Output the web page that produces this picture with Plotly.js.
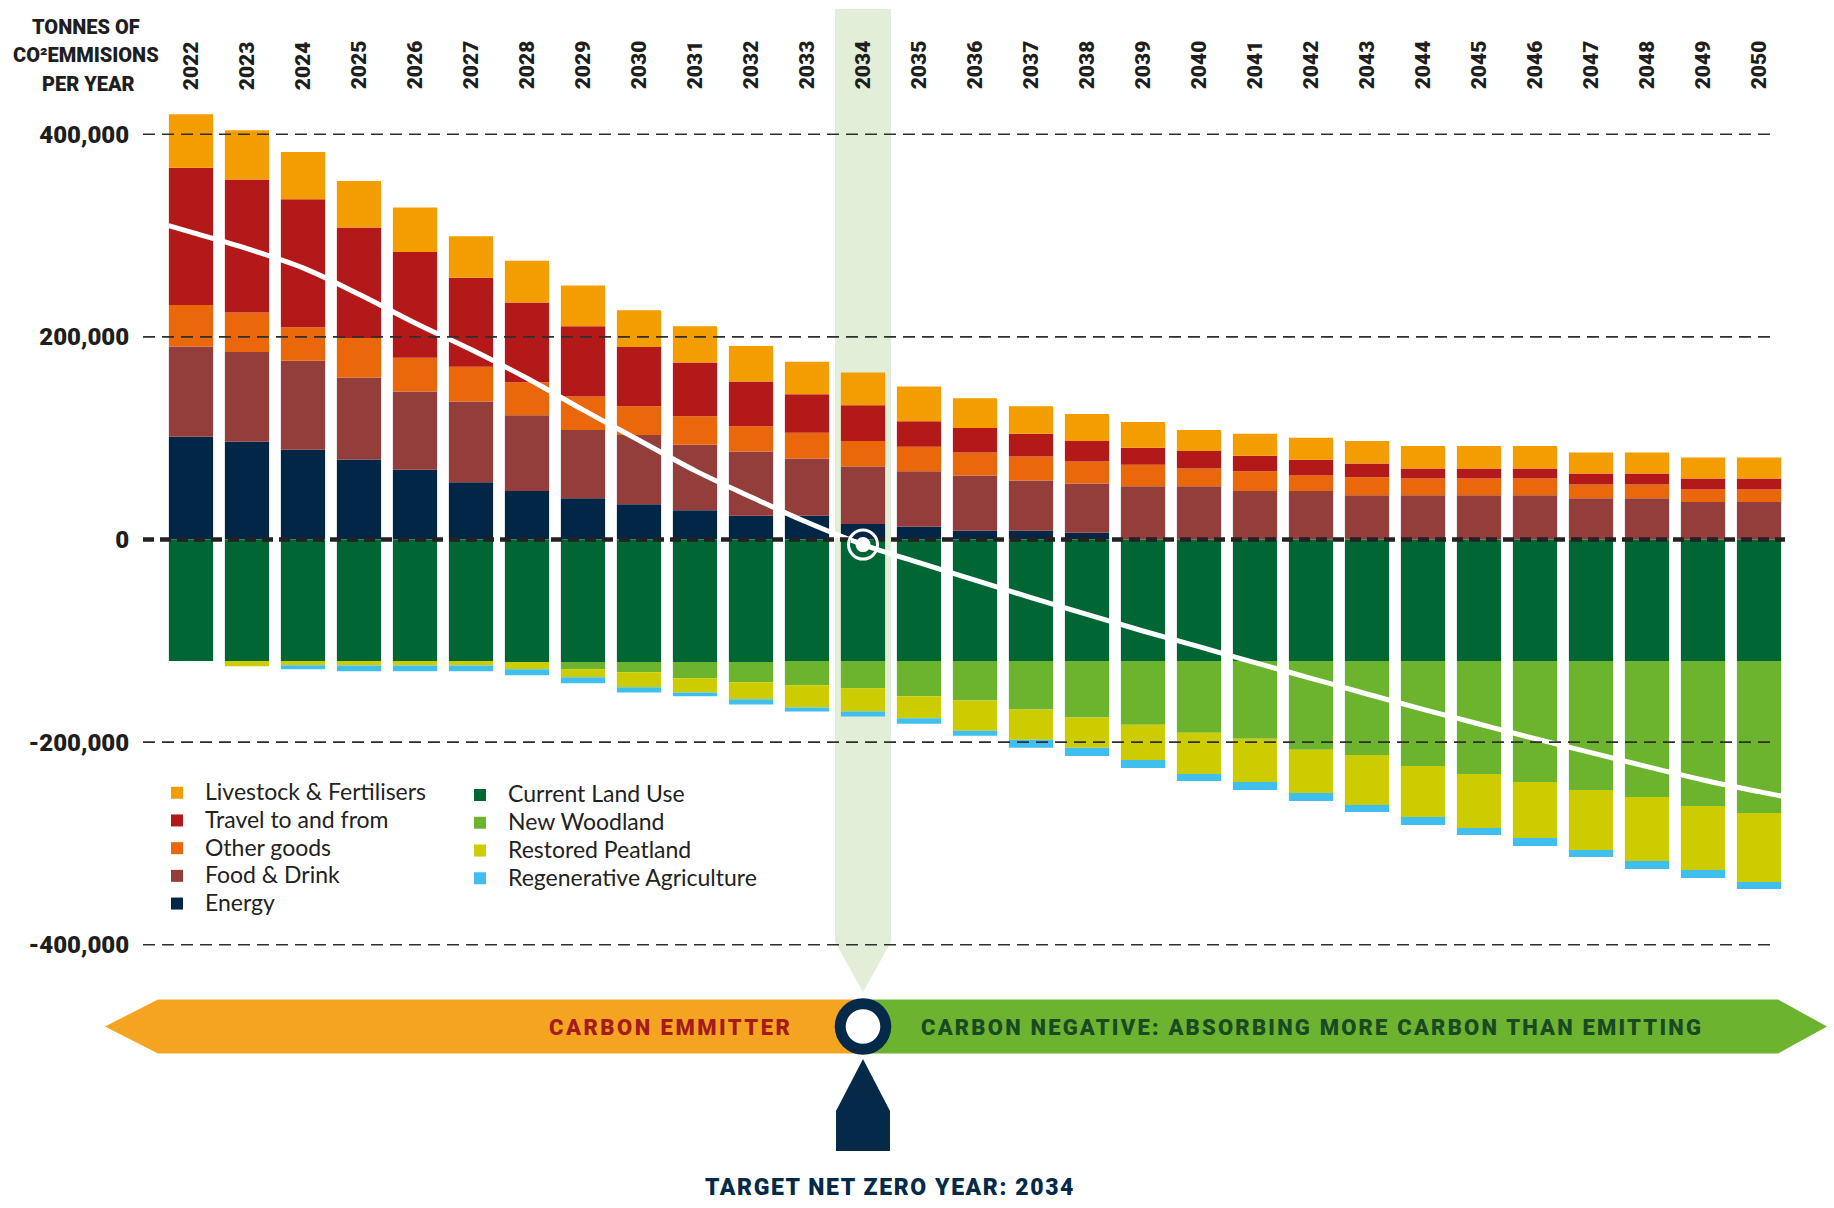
<!DOCTYPE html>
<html>
<head>
<meta charset="utf-8">
<script src="https://cdn.plot.ly/plotly-3.0.1.min.js"></script>
<style>
  html, body { margin: 0; padding: 0; background: #ffffff; }
  #chart { width: 1834px; height: 1208px; }
</style>
</head>
<body>
<div id="chart"></div>
<script>
// ---------------- DATA (tonnes of CO2 per year) ----------------
const years = [2022, 2023, 2024, 2025, 2026, 2027, 2028, 2029, 2030, 2031, 2032, 2033, 2034, 2035,
               2036, 2037, 2038, 2039, 2040, 2041, 2042, 2043, 2044, 2045, 2046, 2047, 2048, 2049, 2050];

// emissions (positive stack, bottom to top)
const energy    = [101500, 96600, 88600, 79000, 69000, 56500, 47800, 40800, 34900, 28900, 23400, 23400, 15300, 12600,
                   8700, 8700, 6600, 0, 0, 0, 0, 0, 0, 0, 0, 0, 0, 0, 0];
const foodDrink = [89000, 88600, 87800, 81000, 77000, 79800, 74900, 67300, 68300, 64600, 63400, 56500, 56900, 54700,
                   54400, 49500, 48800, 52700, 52700, 47800, 47800, 43600, 43600, 43600, 43600, 40800, 40800, 37000, 37000];
const otherGoods = [41000, 39000, 33200, 39000, 33400, 34200, 32500, 33100, 28300, 28200, 25100, 25400, 25100, 24400,
                   22700, 23700, 21700, 21200, 17400, 19500, 15300, 17800, 16700, 16700, 16700, 13600, 13600, 12500, 12500];
const travel    = [135600, 131100, 126200, 109000, 104400, 87900, 78800, 69400, 58600, 53000, 44000, 38000, 35200, 25100,
                   24400, 22400, 20200, 16800, 17400, 15300, 15700, 13600, 9800, 9800, 9800, 10800, 10800, 10800, 10800];
const livestock = [52700, 48800, 46700, 46000, 44000, 41100, 41100, 40100, 36300, 35900, 35200, 32100, 32400, 34200,
                   29300, 27200, 26500, 25400, 20600, 21700, 21600, 22300, 22300, 22300, 22300, 20600, 20600, 20600, 20600];

// sequestration (negative stack, from zero downwards)
const landUse   = [-120000, -120000, -120000, -120000, -120000, -120000, -121000, -121000, -121000, -121000, -121000,
                   -120000, -120000, -120000, -120000, -120000, -120000, -120000, -120000, -120000, -120000, -120000,
                   -120000, -120000, -120000, -120000, -120000, -120000, -120000];
const woodland  = [0, 0, 0, 0, 0, 0, 0, -7000, -10000, -16000, -19800, -23900, -26900, -34800, -38800, -47800, -55800,
                   -62800, -70700, -76700, -87600, -92600, -103500, -111500, -119400, -127300, -134200, -143100, -150000];
const peatland  = [0, -5000, -4000, -4300, -4300, -4300, -7000, -8000, -14900, -13900, -17000, -21900, -22900, -21700,
                   -29900, -29900, -29800, -34800, -40800, -42700, -42700, -49500, -50500, -53300, -55300, -59200,
                   -63200, -63200, -68100];
const regenAg   = [0, 0, -4000, -5700, -5700, -5700, -6000, -5900, -5000, -3900, -5000, -4000, -5000, -5300, -5000,
                   -7900, -8000, -7900, -6900, -7900, -7900, -7000, -7900, -7000, -7900, -6900, -7900, -7900, -6900];

// net trend line (white curve)
const trendYears  = [2021.6, 2022, 2023, 2024, 2025, 2026, 2027, 2028, 2029, 2030, 2031, 2032, 2033, 2034, 2035,
                     2036, 2037, 2038, 2039, 2040, 2041, 2042, 2043, 2044, 2045, 2046, 2047, 2048, 2049, 2050, 2050.4];
const trendValues = [309800, 303400, 287200, 268100, 242100, 213800, 187500, 159200, 128000, 98000, 68000, 42000,
                     17000, -5000, -22900, -40000, -57400, -73900, -90300, -105800, -121600, -137000, -152500,
                     -167600, -182100, -196600, -210400, -224200, -237400, -248900, -253200];

const targetYear = 2034;

const yTickVals = [400000, 200000, 0, -200000, -400000];
const yTickText = ['400,000', '200,000', '0', '-200,000', '-400,000'];

const emitterNames  = ['Energy', 'Food & Drink', 'Other goods', 'Travel to and from', 'Livestock & Fertilisers'];
const emitterSeries = [energy, foodDrink, otherGoods, travel, livestock];
const emitterColors = ['#022746', '#933e3b', '#ea670c', '#b4191a', '#f49d00'];

const sinkNames  = ['Current Land Use', 'New Woodland', 'Restored Peatland', 'Regenerative Agriculture'];
const sinkSeries = [landUse, woodland, peatland, regenAg];
const sinkColors = ['#006634', '#6cb42e', '#cccc00', '#40beee'];

const titleLines = ['TONNES OF', 'CO²EMMISIONS', 'PER YEAR'];
const emitterLabel = 'CARBON EMMITTER';
const negativeLabel = 'CARBON NEGATIVE: ABSORBING MORE CARBON THAN EMITTING';
const targetLabel = 'TARGET NET ZERO YEAR: ' + targetYear;

// ---------------- LAYOUT HELPERS ----------------
const W = 1834, H = 1208;
const M = { l: 143, r: 49, t: 0, b: 0 };
const PW = W - M.l - M.r;
const xRange = [2021.143, 2050.464];
const yRange = [-659900, 532600];
const pxX = v => (v - M.l) / PW;       // page pixel -> paper x
const pxY = v => 1 - v / H;            // page pixel -> paper y
const yearX = yr => (yr - xRange[0]) / (xRange[1] - xRange[0]);

const COND = "Roboto, 'Liberation Sans', sans-serif";
const LEG = "Lato, 'Open Sans', sans-serif";
const NAVY = '#052a49';
const legendName = n => `<span style="font-size:23px">${n}</span>`;

// ---------------- TRACES ----------------
const traces = [];
emitterSeries.forEach((s, i) => traces.push({
  type: 'bar', x: years, y: s, name: legendName(emitterNames[i]), legend: 'legend',
  marker: { color: emitterColors[i], line: { width: 0 } }, hoverinfo: 'x+y'
}));
sinkSeries.forEach((s, i) => traces.push({
  type: 'bar', x: years, y: s, name: legendName(sinkNames[i]), legend: 'legend2',
  marker: { color: sinkColors[i], line: { width: 0 } }, hoverinfo: 'x+y'
}));
traces.push({
  type: 'scatter', mode: 'lines', x: trendYears, y: trendValues, showlegend: false,
  line: { color: '#ffffff', width: 5, shape: 'spline', smoothing: 1 }, hoverinfo: 'skip'
});

// ---------------- SHAPES ----------------
const shapes = [];
shapes.push({
  type: 'path', xref: 'x', yref: 'paper', layer: 'below',
  path: `M ${targetYear - 0.5},${pxY(9)} L ${targetYear + 0.5},${pxY(9)} L ${targetYear + 0.5},${pxY(942)} ` +
        `L ${targetYear},${pxY(992)} L ${targetYear - 0.5},${pxY(942)} Z`,
  fillcolor: '#e3eed8', line: { width: 0 }
});
yTickVals.filter(v => v !== 0).forEach(v => shapes.push({
  type: 'line', xref: 'paper', yref: 'y', x0: 0, x1: pxX(1775), y0: v, y1: v, layer: 'above',
  line: { color: '#2e2e2e', width: 1.6, dash: '12px,7px' }
}));
shapes.push({
  type: 'line', xref: 'paper', yref: 'y', x0: 0, x1: 1, y0: 0, y1: 0, layer: 'above',
  line: { color: '#222222', width: 4.5, dash: '11px,6px' }
});
const tIdx = trendYears.indexOf(targetYear);
shapes.push({
  type: 'circle', xref: 'x', yref: 'y', xsizemode: 'pixel', ysizemode: 'pixel',
  xanchor: targetYear, yanchor: trendValues[tIdx], x0: -14.5, x1: 14.5, y0: -14.5, y1: 14.5, layer: 'above',
  line: { color: '#ffffff', width: 3 }, fillcolor: 'rgba(0,0,0,0)'
});
shapes.push({
  type: 'circle', xref: 'x', yref: 'y', xsizemode: 'pixel', ysizemode: 'pixel',
  xanchor: targetYear, yanchor: trendValues[tIdx], x0: -7.5, x1: 7.5, y0: -7.5, y1: 7.5, layer: 'above',
  line: { width: 0 }, fillcolor: '#ffffff'
});
const cx = yearX(targetYear);
const bTop = pxY(999.5), bBot = pxY(1053.5), bMid = pxY(1026.5);
shapes.push({
  type: 'path', xref: 'paper', yref: 'paper', layer: 'above',
  path: `M ${pxX(105)},${bMid} L ${pxX(158)},${bTop} L ${cx},${bTop} L ${cx},${bBot} L ${pxX(158)},${bBot} Z`,
  fillcolor: '#f5a421', line: { width: 0 }
});
shapes.push({
  type: 'path', xref: 'paper', yref: 'paper', layer: 'above',
  path: `M ${cx},${bTop} L ${pxX(1778)},${bTop} L ${pxX(1827)},${bMid} L ${pxX(1778)},${bBot} L ${cx},${bBot} Z`,
  fillcolor: '#6cb42f', line: { width: 0 }
});
shapes.push({
  type: 'circle', xref: 'paper', yref: 'paper', xsizemode: 'pixel', ysizemode: 'pixel',
  xanchor: cx, yanchor: bMid, x0: -28.3, x1: 28.3, y0: -28.3, y1: 28.3, layer: 'above',
  line: { width: 0 }, fillcolor: NAVY
});
shapes.push({
  type: 'circle', xref: 'paper', yref: 'paper', xsizemode: 'pixel', ysizemode: 'pixel',
  xanchor: cx, yanchor: bMid, x0: -17.3, x1: 17.3, y0: -17.3, y1: 17.3, layer: 'above',
  line: { width: 0 }, fillcolor: '#ffffff'
});
const halfW = 27 / PW;
shapes.push({
  type: 'path', xref: 'paper', yref: 'paper', layer: 'above',
  path: `M ${cx},${pxY(1059)} L ${cx + halfW},${pxY(1111)} L ${cx + halfW},${pxY(1151)} ` +
        `L ${cx - halfW},${pxY(1151)} L ${cx - halfW},${pxY(1111)} Z`,
  fillcolor: NAVY, line: { width: 0 }
});

// ---------------- ANNOTATIONS ----------------
const annotations = [];
const titleY = [27, 55, 83.5];
const titleX = [86, 86, 88];
titleLines.forEach((t, i) => annotations.push({
  text: t, xref: 'paper', yref: 'paper', x: pxX(titleX[i]), y: pxY(titleY[i]),
  xanchor: 'center', yanchor: 'middle', showarrow: false,
  font: { family: COND, size: 20, color: '#1e1e1e', weight: 900 }
}));
years.forEach(yr => annotations.push({
  text: String(yr), xref: 'x', yref: 'paper', x: yr, y: pxY(65.3), textangle: -90,
  xanchor: 'center', yanchor: 'middle', showarrow: false,
  font: { family: COND, size: 21, color: '#1e1e1e', weight: 900 }
}));
annotations.push({
  text: `<span style="letter-spacing:2.5px">${emitterLabel}</span>`, xref: 'paper', yref: 'paper',
  x: pxX(670.5), y: pxY(1027.5), xanchor: 'center', yanchor: 'middle', showarrow: false,
  font: { family: COND, size: 22, color: '#a41b1d', weight: 900 }
});
annotations.push({
  text: `<span style="letter-spacing:2.2px">${negativeLabel}</span>`, xref: 'paper', yref: 'paper',
  x: pxX(1312), y: pxY(1027.5), xanchor: 'center', yanchor: 'middle', showarrow: false,
  font: { family: COND, size: 22, color: '#1a4a23', weight: 900 }
});
annotations.push({
  text: `<span style="letter-spacing:1.6px">${targetLabel}</span>`, xref: 'paper', yref: 'paper',
  x: pxX(890), y: pxY(1187), xanchor: 'center', yanchor: 'middle', showarrow: false,
  font: { family: COND, size: 23, color: NAVY, weight: 900 }
});

// ---------------- LAYOUT ----------------
const layout = {
  width: W, height: H,
  margin: M,
  paper_bgcolor: '#ffffff', plot_bgcolor: 'rgba(0,0,0,0)',
  barmode: 'relative', bargap: 0.21,
  showlegend: true,
  xaxis: { range: xRange, showgrid: false, zeroline: false, showticklabels: false, ticks: '', showline: false, fixedrange: true },
  yaxis: {
    range: yRange, showgrid: false, zeroline: false, showline: false,
    tickmode: 'array', tickvals: yTickVals, ticktext: yTickText,
    ticks: 'outside', ticklen: 8, tickcolor: 'rgba(0,0,0,0)',
    tickfont: { family: COND, size: 24, color: '#1e1e1e', weight: 900 }, fixedrange: true
  },
  legend: {
    x: pxX(149), y: pxY(773.9), xanchor: 'left', yanchor: 'top', traceorder: 'reversed', itemwidth: 46,
    bgcolor: 'rgba(0,0,0,0)', font: { family: LEG, size: 19, color: '#222222' }
  },
  legend2: {
    x: pxX(452), y: pxY(776.2), xanchor: 'left', yanchor: 'top', traceorder: 'normal', itemwidth: 46,
    bgcolor: 'rgba(0,0,0,0)', font: { family: LEG, size: 19, color: '#222222' }
  },
  shapes: shapes,
  annotations: annotations
};

Plotly.newPlot('chart', traces, layout, { displayModeBar: false });
</script>
</body>
</html>
